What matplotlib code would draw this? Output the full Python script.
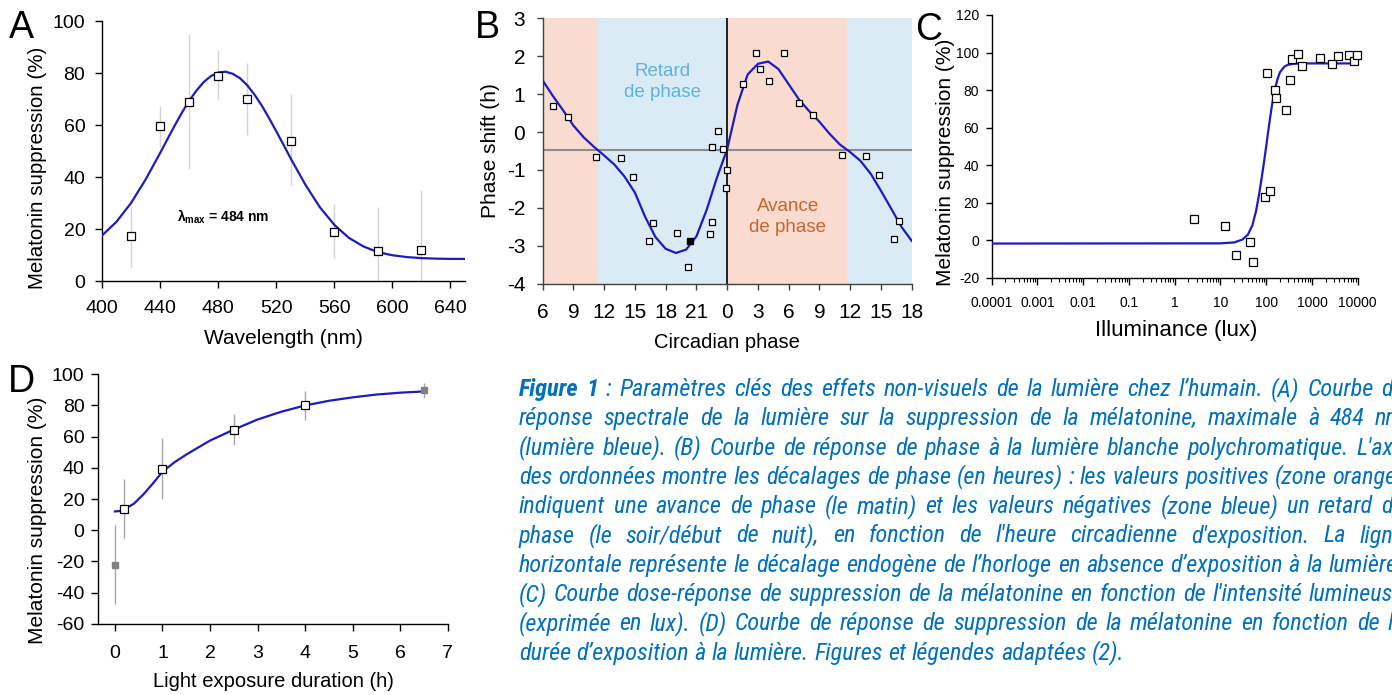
import matplotlib
matplotlib.use("Agg")
import matplotlib.pyplot as plt
from matplotlib import font_manager
from matplotlib.ticker import FixedLocator, LogLocator, NullFormatter

# ---------------- data ----------------
# (A) spectral response
a_wavelength = [420, 440, 460, 480, 500, 530, 560, 590, 620]
a_suppression = [17.5, 59.5, 69, 79, 70, 54, 19, 11.5, 12]
a_err_low = [5.5, 51.5, 43, 70, 56, 37, 9, 0, 0]
a_err_high = [28.5, 67.5, 95, 89, 84, 72, 29.5, 28.5, 35]
a_fit_wavelength = [400, 410, 420, 430, 440, 445, 450, 455, 460, 465, 470, 475, 480, 485, 490,
                    495, 500, 505, 510, 515, 520, 525, 530, 540, 550, 560, 570, 580, 590, 600,
                    610, 620, 630, 640, 650]
a_fit_suppression = [17.5, 22.8, 30.0, 39.0, 49.2, 54.5, 59.7, 64.7, 69.3, 73.2, 76.5, 78.8, 80.2,
                     80.5, 79.7, 78.0, 75.3, 71.7, 67.5, 62.7, 57.6, 52.4, 47.1, 37.1, 28.4, 21.6,
                     16.6, 13.3, 11.1, 9.9, 9.2, 8.8, 8.6, 8.5, 8.5]

# (B) phase response curve, hours on a continuous 6..42 axis (labels wrap at 24)
b_hour = [7.04, 8.43, 11.19, 13.63, 14.83, 16.78, 16.36, 19.12, 20.22, 22.33, 22.56, 22.53,
          23.11, 23.60, 24.02, 23.86, 25.55, 26.78, 27.23, 28.08, 29.51, 30.97, 32.40,
          35.16, 37.56, 38.79, 40.74, 40.25]
b_shift = [0.70, 0.39, -0.67, -0.69, -1.18, -2.39, -2.87, -2.65, -3.55, -2.68, -2.38, -0.39,
           0.02, -0.45, -1.01, -1.47, 1.26, 2.09, 1.67, 1.34, 2.08, 0.77, 0.45,
           -0.60, -0.62, -1.12, -2.34, -2.81]
b_filled_hour = [20.35]
b_filled_shift = [-2.87]
b_fit_hour = [6, 7, 8, 9, 10, 11, 12, 13, 14, 15, 16, 17, 18, 19, 20, 21, 22, 23, 24,
              25, 26, 27, 28, 29, 30, 31, 32, 33, 34, 35, 36, 37, 38, 39, 40, 41, 42]
b_fit_shift = [1.36, 0.95, 0.57, 0.17, -0.14, -0.39, -0.62, -0.86, -1.18, -1.60, -2.24, -2.77,
               -3.08, -3.19, -3.10, -2.75, -2.05, -1.20, -0.45, 0.72, 1.52, 1.80, 1.86, 1.66,
               1.26, 0.86, 0.55, 0.27, -0.05, -0.33, -0.53, -0.76, -1.10, -1.55, -2.02, -2.50, -2.87]
b_baseline = -0.47
b_zones = [(6, 11.4, "advance"), (11.4, 24, "delay"), (24, 35.7, "advance"), (35.7, 42, "delay")]

# (C) dose response
c_lux = [2.6, 12.6, 21.9, 43.5, 52.5, 94, 106, 121, 154, 164, 270, 330, 360, 488, 600,
         1490, 2760, 3650, 6580, 8310, 9740]
c_suppression = [11.1, 7.7, -7.9, -0.8, -11.8, 23.0, 88.9, 26.0, 80.0, 75.8, 69.2, 85.5,
                 96.5, 99.4, 93.0, 96.9, 94.0, 98.1, 98.9, 95.5, 98.9]
c_fit_lux = [0.0001, 10, 20, 30, 40, 50, 60, 70, 80, 90, 100, 115, 130, 150, 175, 200,
             250, 300, 400, 600, 10000]
c_fit_suppression = [-1.8, -1.7, -1.2, 0.3, 3.0, 8.0, 15.5, 24.5, 33.5, 42.0, 50.0, 61.0,
                     70.0, 79.0, 85.5, 89.5, 92.5, 93.5, 94.0, 94.2, 94.2]
c_tick_labels = ["0.0001", "0.001", "0.01", "0.1", "1", "10", "100", "1000", "10000"]

# (D) exposure duration
d_open_hours = [0.2, 1, 2.5, 4]
d_open_suppression = [13.8, 39.5, 64.5, 80.5]
d_filled_hours = [0, 6.5]
d_filled_suppression = [-22.4, 89.7]
d_err_hours = [0, 0.2, 1, 2.5, 4, 6.5]
d_err_low = [-47.6, -4.8, 20, 54.7, 71, 85]
d_err_high = [3.3, 32.6, 59, 74.5, 89.5, 94.2]
d_fit_hours = [0, 0.1, 0.2, 0.4, 0.6, 0.8, 1, 1.25, 1.5, 2, 2.5, 3, 3.5, 4, 4.5, 5, 5.5, 6, 6.5]
d_fit_suppression = [12.0, 12.3, 13.5, 17.0, 23.0, 30.0, 37.5, 43.5, 48.5, 57.5, 64.5, 71.0,
                     76.0, 80.0, 83.0, 85.2, 87.0, 88.2, 89.0]

caption_lines = [
    "Figure 1 : Paramètres clés des effets non-visuels de la lumière chez l’humain. (A) Courbe de",
    "réponse spectrale de la lumière sur la suppression de la mélatonine, maximale à 484 nm",
    "(lumière bleue). (B) Courbe de réponse de phase à la lumière blanche polychromatique. L'axe",
    "des ordonnées montre les décalages de phase (en heures) : les valeurs positives (zone orange)",
    "indiquent une avance de phase (le matin) et les valeurs négatives (zone bleue) un retard de",
    "phase (le soir/début de nuit), en fonction de l'heure circadienne d'exposition. La ligne",
    "horizontale représente le décalage endogène de l’horloge en absence d’exposition à la lumière.",
    "(C) Courbe dose-réponse de suppression de la mélatonine en fonction de l'intensité lumineuse",
    "(exprimée en lux). (D) Courbe de réponse de suppression de la mélatonine en fonction de la",
    "durée d’exposition à la lumière. Figures et légendes adaptées (2).",
]

# ---------------- style ----------------
plt.rcParams["font.family"] = ["Liberation Sans", "DejaVu Sans"]
plt.rcParams["axes.unicode_minus"] = False
plt.rcParams["mathtext.fontset"] = "custom"
plt.rcParams["mathtext.rm"] = "Liberation Sans"
plt.rcParams["mathtext.it"] = "Liberation Sans:italic"
plt.rcParams["mathtext.bf"] = "Liberation Sans:bold"

CURVE = "#1c1cc0"
ADVANCE_BG = "#f9dccf"
DELAY_BG = "#daebf6"
CAPTION_COLOR = "#0070c0"
W, H = 1392, 695

fig = plt.figure(figsize=(W / 100, H / 100), dpi=100)


def add_axes_px(left, top, right, bottom):
    return fig.add_axes([left / W, 1 - bottom / H, (right - left) / W, (bottom - top) / H])


def style_axes(ax, color="black"):
    for side in ("top", "right"):
        ax.spines[side].set_visible(False)
    for side in ("left", "bottom"):
        ax.spines[side].set_color(color)
        ax.spines[side].set_linewidth(1.0)
    ax.tick_params(direction="out", color=color, width=1.0)


def open_squares(ax, x, y, size=5.2):
    ax.plot(x, y, ls="none", marker="s", ms=size, mfc="white", mec="black", mew=0.9,
            zorder=4, clip_on=False)


# ---------------- A ----------------
ax_a = add_axes_px(102, 21, 465, 281)
style_axes(ax_a)
ax_a.vlines(a_wavelength, a_err_low, a_err_high, color="#d4d4d4", lw=1.0, zorder=1)
ax_a.plot(a_fit_wavelength, a_fit_suppression, color=CURVE, lw=1.6, zorder=3)
open_squares(ax_a, a_wavelength, a_suppression)
ax_a.set_xlim(400, 650)
ax_a.set_ylim(0, 100)
ax_a.set_xticks([400, 440, 480, 520, 560, 600, 640])
ax_a.set_yticks([0, 20, 40, 60, 80, 100])
ax_a.tick_params(labelsize=14, length=5)
ax_a.tick_params(axis="x", pad=9)
ax_a.tick_params(axis="y", pad=7)
ax_a.set_xlabel("Wavelength (nm)", fontsize=15)
ax_a.xaxis.set_label_coords(0.5, -0.185)
ax_a.set_ylabel("Melatonin suppression (%)", fontsize=14.8)
ax_a.yaxis.set_label_coords(-0.152, 0.437)
ax_a.text(451.6, 22.7, r"$\mathbf{\lambda}_{\mathbf{max}}$ = 484 nm", fontsize=10,
          fontweight="bold", va="baseline", ha="left")

# ---------------- B ----------------
ax_b = add_axes_px(542.7, 18.3, 911.7, 283.7)
style_axes(ax_b, "#404040")
for start, end, kind in b_zones:
    ax_b.axvspan(start, end, color=ADVANCE_BG if kind == "advance" else DELAY_BG, lw=0, zorder=0)
ax_b.axhline(b_baseline, color="#8c8c8c", lw=1.5, zorder=1)
ax_b.axvline(24, color="black", lw=1.2, zorder=1)
ax_b.plot(b_fit_hour, b_fit_shift, color=CURVE, lw=1.6, zorder=3)
open_squares(ax_b, b_hour, b_shift, size=5)
ax_b.plot(b_filled_hour, b_filled_shift, ls="none", marker="s", ms=5, color="black", zorder=5)
ax_b.set_xlim(6, 42)
ax_b.set_ylim(-4, 3)
b_ticks = list(range(6, 43, 3))
ax_b.xaxis.set_major_locator(FixedLocator(b_ticks))
ax_b.set_xticklabels([str(t % 24) for t in b_ticks])
ax_b.set_yticks(range(-4, 4))
ax_b.tick_params(labelsize=15, length=4)
ax_b.tick_params(axis="x", pad=10)
ax_b.tick_params(axis="y", pad=8.5)
ax_b.set_xlabel("Circadian phase", fontsize=14.5)
ax_b.xaxis.set_label_coords(0.5, -0.186)
ax_b.set_ylabel("Phase shift (h)", fontsize=15)
ax_b.yaxis.set_label_coords(-0.116, 0.5)
ax_b.text(17.69, 1.31, "Retard\nde phase", fontsize=13.5, color="#5ab4dc", ha="center",
          va="center", linespacing=1.3, zorder=6)
ax_b.text(29.9, -2.23, "Avance\nde phase", fontsize=13.5, color="#c8642f", ha="center",
          va="center", linespacing=1.3, zorder=6)

# ---------------- C ----------------
ax_c = add_axes_px(991.7, 15, 1357.7, 277.7)
style_axes(ax_c)
ax_c.set_xscale("log")
ax_c.plot(c_fit_lux, c_fit_suppression, color=CURVE, lw=1.6, zorder=3)
open_squares(ax_c, c_lux, c_suppression, size=5.8)
ax_c.set_xlim(1e-4, 1e4)
ax_c.set_ylim(-20, 120)
ax_c.xaxis.set_major_locator(FixedLocator([10.0 ** k for k in range(-4, 5)]))
ax_c.set_xticklabels(c_tick_labels)
ax_c.xaxis.set_minor_locator(LogLocator(base=10, subs=range(2, 10), numticks=20))
ax_c.xaxis.set_minor_formatter(NullFormatter())
ax_c.set_yticks(range(-20, 121, 20))
ax_c.tick_params(labelsize=10, length=5)
ax_c.tick_params(which="minor", direction="out", length=3, width=0.8)
ax_c.tick_params(axis="x", pad=8)
ax_c.tick_params(axis="y", pad=5, length=4)
ax_c.set_xlabel("Illuminance (lux)", fontsize=16)
ax_c.xaxis.set_label_coords(0.503, -0.16)
ax_c.set_ylabel("Melatonin suppression (%)", fontsize=15)
ax_c.yaxis.set_label_coords(-0.100, 0.44)

# ---------------- D ----------------
ax_d = add_axes_px(98.3, 374.3, 447.7, 623.7)
style_axes(ax_d)
ax_d.vlines(d_err_hours, d_err_low, d_err_high, color="#a8a8a8", lw=1.0, zorder=1)
ax_d.plot(d_fit_hours, d_fit_suppression, color=CURVE, lw=1.6, zorder=3)
open_squares(ax_d, d_open_hours, d_open_suppression)
ax_d.plot(d_filled_hours, d_filled_suppression, ls="none", marker="s", ms=5, color="#808080",
          zorder=4, clip_on=False)
ax_d.set_xlim(-0.35, 7)
ax_d.set_ylim(-60, 100)
ax_d.set_xticks(range(0, 8))
ax_d.set_yticks(range(-60, 101, 20))
ax_d.tick_params(labelsize=14, length=5)
ax_d.tick_params(axis="x", pad=10)
ax_d.tick_params(axis="y", pad=5)
ax_d.set_xlabel("Light exposure duration (h)", fontsize=14.5)
ax_d.xaxis.set_label_coords(0.501, -0.192)
ax_d.set_ylabel("Melatonin suppression (%)", fontsize=15)
ax_d.yaxis.set_label_coords(-0.147, 0.416)

# ---------------- panel letters ----------------
for letter, x, baseline in [("A", 9, 38), ("B", 475, 38), ("C", 915, 40), ("D", 8, 392)]:
    fig.text(x / W, 1 - baseline / H, letter, fontsize=27, va="baseline", ha="left")

# ---------------- justified caption ----------------
installed = {f.name for f in font_manager.fontManager.ttflist}
cap_family = ["Liberation Sans"]
for candidate in ("Liberation Sans Narrow", "Arial Narrow", "Roboto Condensed"):
    if candidate in installed:
        cap_family = [candidate]
        break
cap_x0, cap_x1 = 519, 1404
cap_first, cap_step = 396, 29.3
renderer = fig.canvas.get_renderer()


def word_width(word, size, weight="normal"):
    t = fig.text(0, 0, word, fontsize=size, style="italic", weight=weight, family=cap_family)
    w = t.get_window_extent(renderer).width
    t.remove()
    return w


def natural_width(line, size):
    words = line.split(" ")
    space = word_width("a a", size) - word_width("aa", size)
    return sum(word_width(w, size) for w in words) + space * (len(words) - 1)


# size the caption so its widest line just fills the column, as in the reference
cap_size = 15
widest = max(natural_width(line, cap_size) for line in caption_lines[:-1])
cap_size = min(17.5, cap_size * (cap_x1 - cap_x0) / widest)
space_px = word_width("a a", cap_size) - word_width("aa", cap_size)

for i, line in enumerate(caption_lines):
    y = 1 - (cap_first + cap_step * i) / H
    words = line.split(" ")
    pieces = []
    for j, word in enumerate(words):
        weight = "bold" if i == 0 and j < 2 else "normal"
        pieces.append(fig.text(0, y, word, fontsize=cap_size, style="italic", weight=weight,
                               family=cap_family, color=CAPTION_COLOR, va="baseline", ha="left"))
    widths = [t.get_window_extent(renderer).width for t in pieces]
    if i == len(caption_lines) - 1:
        gap = space_px
    else:
        gap = max(space_px * 0.4, (cap_x1 - cap_x0 - sum(widths)) / (len(pieces) - 1))
    x = cap_x0
    for t, w in zip(pieces, widths):
        t.set_x(x / W)
        x += w + gap

fig.savefig("out.png", dpi=100)
